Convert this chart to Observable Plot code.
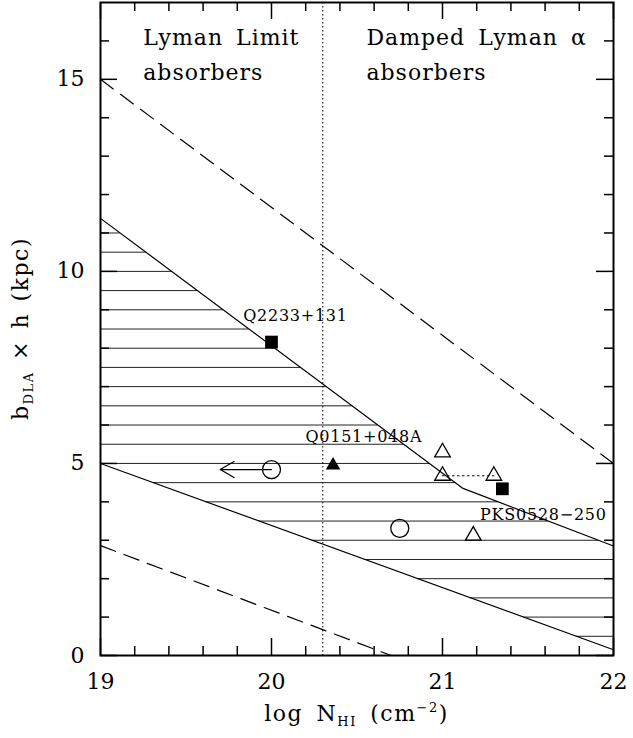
<!DOCTYPE html>
<html><head><meta charset="utf-8">
<script src="https://cdn.jsdelivr.net/npm/d3@7"></script>
<script src="https://cdn.jsdelivr.net/npm/@observablehq/plot@0.6"></script>
<style>html,body{margin:0;padding:0;background:#fff;overflow:hidden}#chart svg{display:block}</style>
</head><body><div id="chart"></div>
<script>
// ---- data ----
const xMajor = [19, 20, 21, 22];
const xMinor = [19.2, 19.4, 19.6, 19.8, 20.2, 20.4, 20.6, 20.8, 21.2, 21.4, 21.6, 21.8];
const yMajor = [0, 5, 10, 15];
const yMinor = [1, 2, 3, 4, 6, 7, 8, 9, 11, 12, 13, 14, 16];
const yTop = 17;

const upperDashedX = [19, 22];
const upperDashedY = [15, 5];
const lowerDashedX = [19, 20.7];
const lowerDashedY = [2.86, 0];
const upperSolidX = [19, 21.12, 22];
const upperSolidY = [11.38, 4.35, 2.85];
const lowerSolidX = [19, 22];
const lowerSolidY = [5.0, 0.15];
const hatchLevels = [0.5, 1, 1.5, 2, 2.5, 3, 3.5, 4, 4.5, 5, 5.5, 6, 6.5, 7, 7.5, 8, 8.5, 9, 9.5, 10, 10.5, 11];
const boundaryX = [20.3];

const squaresX = [20.0, 21.35];
const squaresY = [8.16, 4.34];
const openCirclesX = [20.0, 20.75];
const openCirclesY = [4.84, 3.31];
const filledTriX = [20.36];
const filledTriY = [4.95];
const openTriX = [21.0, 21.0, 21.3, 21.18];
const openTriY = [5.29, 4.68, 4.68, 3.12];
const pairX = [21.0, 21.3];
const pairY = [4.68, 4.68];
const limitArrowX = [20.0, 19.7];
const limitArrowY = [4.84, 4.84];

const labelNames = ["Q2233+131", "Q0151+048A", "PKS0528\u2212250"];
const labelX = [20.14, 20.54, 21.59];
const labelY = [8.71, 5.55, 3.53];
const regionNames = ["Lyman Limit\nabsorbers", "Damped Lyman \u03b1\nabsorbers"];
const regionX = [19.25, 20.555];
const regionY = [14.97, 14.97];

// ---- layout ----
const W = 633, H = 738;
const mL = 100, mR = 20, mT = 2, mB = 83;
const innerW = W - mL - mR, innerH = H - mT - mB;
const majorLen = 17, minorLen = 9;
const FONT = "DejaVu Serif";

// crossing of a polyline at level c
function cross(xs, ys, c) {
  for (let i = 0; i < xs.length - 1; i++) {
    const a = ys[i], b = ys[i + 1];
    if ((c - a) * (c - b) <= 0 && a !== b) return xs[i] + (c - a) / (b - a) * (xs[i + 1] - xs[i]);
  }
  return undefined;
}
const x0 = xMajor[0], x1 = xMajor[xMajor.length - 1];
const hatch = hatchLevels.map(c => ({
  y: c,
  x1: c >= lowerSolidY[0] ? x0 : cross(lowerSolidX, lowerSolidY, c),
  x2: c <= upperSolidY[upperSolidY.length - 1] ? x1 : cross(upperSolidX, upperSolidY, c)
}));

const chart = Plot.plot({
  width: W, height: H,
  marginLeft: mL, marginRight: mR, marginTop: mT, marginBottom: mB,
  style: {fontFamily: FONT, background: "white", color: "black"},
  x: {domain: [x0, x1]},
  y: {domain: [0, yTop]},
  marks: [
    // hatching
    Plot.ruleY(hatch, {y: "y", x1: "x1", x2: "x2", stroke: "#222", strokeWidth: 1}),
    // boundary lines
    Plot.line(upperDashedY, {x: upperDashedX, y: upperDashedY, stroke: "black", strokeWidth: 1.2, strokeDasharray: "16,9"}),
    Plot.line(lowerDashedY, {x: lowerDashedX, y: lowerDashedY, stroke: "black", strokeWidth: 1.2, strokeDasharray: "16,9"}),
    Plot.line(upperSolidY, {x: upperSolidX, y: upperSolidY, stroke: "black", strokeWidth: 1.2}),
    Plot.line(lowerSolidY, {x: lowerSolidX, y: lowerSolidY, stroke: "black", strokeWidth: 1.2}),
    Plot.ruleX(boundaryX, {x: d => d, stroke: "black", strokeWidth: 1, strokeDasharray: "1.5,2.5"}),
    Plot.line(pairY, {x: pairX, y: pairY, stroke: "black", strokeWidth: 1.2, strokeDasharray: "1.5,3.5"}),
    // upper limit arrow
    Plot.arrow([0], {x1: () => limitArrowX[0], y1: () => limitArrowY[0], x2: () => limitArrowX[1], y2: () => limitArrowY[1],
      stroke: "black", strokeWidth: 1.2, headLength: 20, headAngle: 60}),
    // points
    Plot.dot(squaresY, {x: squaresX, y: squaresY, symbol: "square", r: 7.2, fill: "black", stroke: null}),
    Plot.dot(openCirclesY, {x: openCirclesX, y: openCirclesY, symbol: "circle", r: 9, fill: "none", stroke: "black", strokeWidth: 1.3}),
    Plot.dot(filledTriY, {x: filledTriX, y: filledTriY, symbol: "triangle", r: 5.4, fill: "black", stroke: null}),
    Plot.dot(openTriY, {x: openTriX, y: openTriY, symbol: "triangle", r: 5.8, fill: "none", stroke: "black", strokeWidth: 1.3}),
    // labels
    Plot.text(labelNames, {x: labelX, y: labelY, text: d => d, textAnchor: "middle", lineAnchor: "bottom", fontSize: 16, fill: "black"}),
    Plot.text(regionNames, {x: regionX, y: regionY, text: d => d, textAnchor: "start", lineAnchor: "bottom", fontSize: 22, lineHeight: 1.6, fill: "black"}),
    // ticks inside frame on all four sides
    Plot.ruleX(xMajor, {x: d => d, insetTop: innerH - majorLen, stroke: "black", strokeWidth: 1.5}),
    Plot.ruleX(xMajor, {x: d => d, insetBottom: innerH - majorLen, stroke: "black", strokeWidth: 1.5}),
    Plot.ruleX(xMinor, {x: d => d, insetTop: innerH - minorLen, stroke: "black", strokeWidth: 1.5}),
    Plot.ruleX(xMinor, {x: d => d, insetBottom: innerH - minorLen, stroke: "black", strokeWidth: 1.5}),
    Plot.ruleY(yMajor, {y: d => d, insetRight: innerW - majorLen, stroke: "black", strokeWidth: 1.5}),
    Plot.ruleY(yMajor, {y: d => d, insetLeft: innerW - majorLen, stroke: "black", strokeWidth: 1.5}),
    Plot.ruleY(yMinor, {y: d => d, insetRight: innerW - minorLen, stroke: "black", strokeWidth: 1.5}),
    Plot.ruleY(yMinor, {y: d => d, insetLeft: innerW - minorLen, stroke: "black", strokeWidth: 1.5}),
    // tick labels
    Plot.axisX({ticks: xMajor, tickSize: 0, tickPadding: 18, fontSize: 22, label: null, tickFormat: d => String(d)}),
    Plot.axisY({ticks: yMajor, tickSize: 0, tickPadding: 16, fontSize: 22, label: null, tickFormat: d => String(d)}),
    Plot.frame({stroke: "black", strokeWidth: 2})
  ]
});

const svg = d3.select(chart);
// wider glyph spacing, like the original plotting font
const textGroups = svg.selectAll('g[aria-label="text"]').nodes();
if (textGroups[0]) d3.select(textGroups[0]).attr("letter-spacing", 0.75);
if (textGroups[1]) d3.select(textGroups[1]).attr("letter-spacing", 1).attr("word-spacing", 5);

// axis titles with sub/superscripts
const xl = svg.append("text")
  .attr("x", mL + innerW / 2).attr("y", 721)
  .attr("text-anchor", "middle").attr("font-size", 22).attr("font-family", FONT).attr("fill", "black")
  .attr("letter-spacing", 1.5).attr("word-spacing", 5);
xl.append("tspan").text("log N");
xl.append("tspan").attr("font-size", 13).attr("dy", 5).text("HI");
xl.append("tspan").attr("dy", -5).text(" (cm");
xl.append("tspan").attr("font-size", 13).attr("dy", -9).text("\u22122");
xl.append("tspan").attr("dy", 9).text(")");

const yl = svg.append("text")
  .attr("transform", `translate(28,${mT + innerH / 2}) rotate(-90)`)
  .attr("text-anchor", "middle").attr("font-size", 22).attr("font-family", FONT).attr("fill", "black")
  .attr("letter-spacing", 1.5).attr("word-spacing", 3);
yl.append("tspan").text("b");
yl.append("tspan").attr("font-size", 13).attr("dy", 5).text("DLA");
yl.append("tspan").attr("dy", -5).text(" \u00d7 h (kpc)");

document.getElementById("chart").appendChild(chart);
</script>
</body></html>
